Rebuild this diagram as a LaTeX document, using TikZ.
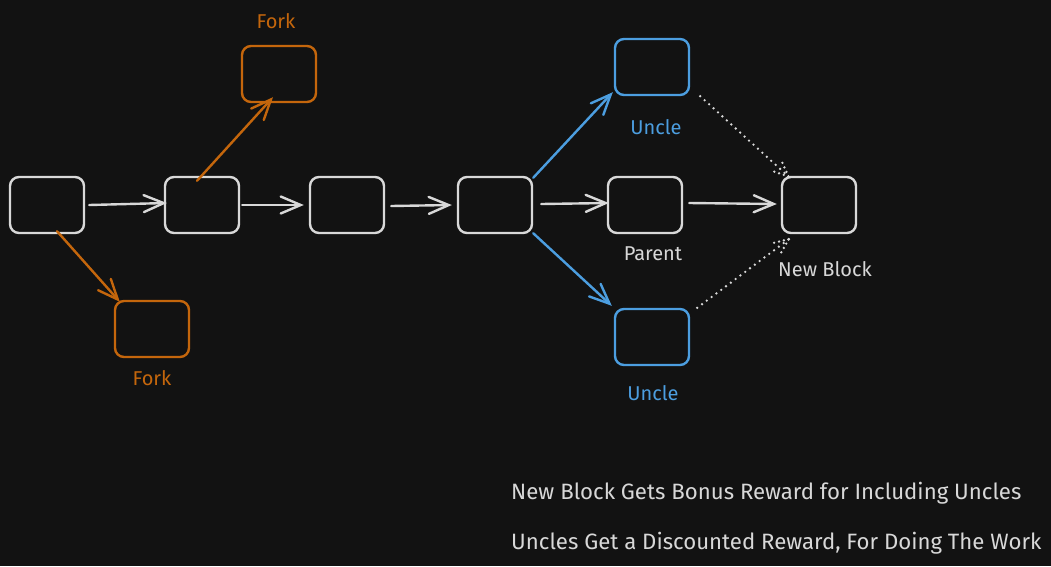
\documentclass[tikz,border=0pt]{standalone}
\usepackage{fontspec}
\setmainfont{Fira Sans}
\usetikzlibrary{arrows.meta,decorations.markings}
\definecolor{bg}{HTML}{121212}
\definecolor{chalk}{HTML}{D8D8D8}
\definecolor{forkc}{HTML}{C4660C}
\definecolor{unclec}{HTML}{4C9EE0}
\tikzset{
  block/.style={draw=chalk, line width=2.4pt, rounded corners=9pt, minimum width=74pt, minimum height=56pt, inner sep=0pt},
  forkblock/.style={block, draw=forkc},
  uncleblock/.style={block, draw=unclec},
  link/.style={draw=chalk, line width=2.4pt, line cap=round, -{Straight Barb[length=20pt,width=17pt,line cap=round]}},
  forklink/.style={link, draw=forkc},
  unclelink/.style={link, draw=unclec},
  dotlink/.style={draw=chalk, line width=2.6pt, line cap=round, dash pattern=on 0pt off 6pt,
    postaction={decorate, decoration={markings, mark=at position 1 with {
      \draw[chalk, line width=2.6pt, line cap=round, dash pattern=on 0pt off 5pt] (0,0) -- (-16,7);
      \draw[chalk, line width=2.6pt, line cap=round, dash pattern=on 0pt off 5pt] (0,0) -- (-16,-7);}}}},
  lbl/.style={font=\fontsize{20pt}{24pt}\selectfont, text=chalk, inner sep=0pt},
  forklbl/.style={lbl, text=forkc},
  unclelbl/.style={lbl, text=unclec},
  note/.style={font=\fontsize{22.2pt}{26pt}\selectfont, text=chalk, inner sep=0pt, anchor=base west},
}
\begin{document}
\begin{tikzpicture}[x=1pt,y=-1pt]
\fill[bg] (0,0) rectangle (1051,566);
\useasboundingbox (0,0) rectangle (1051,566);

\node[block] (A) at (47,205) {};
\node[block] (B) at (202,205) {};
\node[block] (C) at (347,205) {};
\node[block] (D) at (495,205) {};
\node[block] (P) at (645,205) {};
\node[block] (N) at (819,205) {};
\node[uncleblock] (U1) at (652,67) {};
\node[uncleblock] (U2) at (652,337) {};
\node[forkblock] (F1) at (279,74) {};
\node[forkblock] (F2) at (152,329) {};

\node[forklbl] (lf1) at (276,21) {Fork};
\node[forklbl] (lf2) at (152,378) {Fork};
\node[unclelbl] (lu1) at (656,127) {Uncle};
\node[unclelbl] (lu2) at (653,393) {Uncle};
\node[lbl] (lp) at (653,254) {Parent};
\node[lbl] (ln) at (825,269) {New Block};

\draw[link] ([xshift=4pt,yshift=0pt]A.east) -- ([xshift=3pt,yshift=2pt]B.west);
\draw[link] ([xshift=2pt]B.east) -- ([xshift=-5pt]C.west);
\draw[link] ([xshift=6pt,yshift=-1pt]C.east) -- ([xshift=-5pt]D.west);
\draw[link] ([xshift=8pt,yshift=1pt]D.east) -- ([xshift=2pt,yshift=2pt]P.west);
\draw[link] ([xshift=6pt,yshift=2pt]P.east) -- ([xshift=-4pt,yshift=1pt]N.west);

\draw[unclelink] ([yshift=-2pt]D.north east) -- ([xshift=-1pt,yshift=4pt]U1.south west);
\draw[unclelink] ([yshift=1pt]D.south east) -- ([xshift=-2pt,yshift=2pt]U2.north west);
\draw[forklink] ([xshift=-5pt,yshift=-5pt]B.north) -- ([xshift=-6pt,yshift=6pt]F1.south);
\draw[forklink] ([xshift=10pt,yshift=3pt]A.south) -- ([xshift=6pt,yshift=-2pt]F2.north west);

\draw[dotlink] ([xshift=10pt]U1.south east) -- ([xshift=8pt,yshift=-1pt]N.north west);
\draw[dotlink] ([xshift=7pt]U2.north east) -- ([xshift=8pt,yshift=-5pt]N.south west);

\node[note] (t1) at (511,499) {New Block Gets Bonus Reward for Including Uncles};
\node[note] (t2) at (511,549) {Uncles Get a Discounted Reward, For Doing The Work};
\end{tikzpicture}
\end{document}
